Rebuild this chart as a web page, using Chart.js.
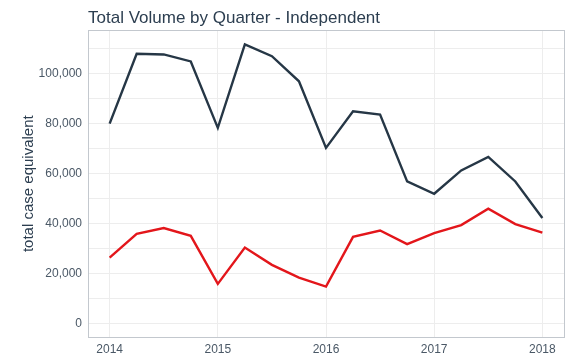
<!DOCTYPE html>
<html>
<head>
<meta charset="utf-8">
<script src="https://cdn.jsdelivr.net/npm/chart.js@4/dist/chart.umd.min.js"></script>
<style>
  html, body { margin: 0; padding: 0; background: #fff; }
  #wrap { width: 577px; height: 364px; }
</style>
</head>
<body>
<div id="wrap"><canvas id="volumeChart"></canvas></div>
<script>
// quarters as decimal years, 2014 Q1 .. 2018 Q1
const quarters = [2014, 2014.25, 2014.5, 2014.75, 2015, 2015.25, 2015.5, 2015.75,
                  2016, 2016.25, 2016.5, 2016.75, 2017, 2017.25, 2017.5, 2017.75, 2018];
const darkSeries = [80000, 107900, 107600, 104800, 78300, 111600, 106900, 96900,
                    70300, 84900, 83600, 56900, 52000, 61300, 66700, 56900, 42300];
const redSeries = [26500, 36000, 38300, 35200, 16000, 30500, 23600, 18500,
                   14900, 34800, 37300, 31900, 36300, 39500, 46000, 39900, 36500];
const yearTicks = [2014, 2015, 2016, 2017, 2018];
const valueTicks = [0, 10000, 20000, 30000, 40000, 50000, 60000, 70000, 80000, 90000, 100000, 110000];

const textColor = '#4a5866';
const gridColor = '#ededed';

const boxPlugin = {
    id: 'plotBox',
    afterDraw(chart) {
        const a = chart.chartArea;
        const ctx = chart.ctx;
        ctx.save();
        ctx.strokeStyle = '#c3c8ce';
        ctx.lineWidth = 1;
        ctx.strokeRect(Math.round(a.left) + 0.5, Math.round(a.top) + 0.5,
                       Math.round(a.right - a.left), Math.round(a.bottom - a.top));
        ctx.restore();
    }
};

const ctx = document.getElementById('volumeChart').getContext('2d');
new Chart(ctx, {
    type: 'line',
    data: {
        datasets: [
            {
                label: 'Total',
                data: quarters.map((q, i) => ({ x: q, y: darkSeries[i] })),
                borderColor: '#263746',
                borderWidth: 2.4,
                pointRadius: 0,
                tension: 0
            },
            {
                label: 'Independent',
                data: quarters.map((q, i) => ({ x: q, y: redSeries[i] })),
                borderColor: '#e3161b',
                borderWidth: 2.4,
                pointRadius: 0,
                tension: 0
            }
        ]
    },
    options: {
        responsive: true,
        maintainAspectRatio: false,
        animation: false,
        layout: { padding: { left: 0, right: 13, top: 0, bottom: 0 } },
        plugins: {
            legend: { display: false },
            tooltip: { enabled: false },
            title: {
                display: true,
                text: 'Total Volume by Quarter - Independent',
                align: 'start',
                fullSize: false,
                color: '#2c3e50',
                font: { family: 'Liberation Sans, Arial, sans-serif', size: 17, weight: 'normal' },
                padding: { top: 8, bottom: 2 }
            }
        },
        scales: {
            x: {
                type: 'linear',
                min: 2013.8,
                max: 2018.2,
                afterBuildTicks: scale => { scale.ticks = yearTicks.map(v => ({ value: v })); },
                afterFit: scale => { scale.height = 27; },
                ticks: {
                    color: textColor,
                    padding: 5,
                    font: { family: 'Liberation Sans, Arial, sans-serif', size: 12 },
                    callback: v => String(v)
                },
                grid: { color: gridColor, drawTicks: false },
                border: { display: false }
            },
            y: {
                min: -5200,
                max: 117200,
                afterBuildTicks: scale => { scale.ticks = valueTicks.map(v => ({ value: v })); },
                afterFit: scale => { scale.width = 88; },
                ticks: {
                    color: textColor,
                    padding: 6,
                    font: { family: 'Liberation Sans, Arial, sans-serif', size: 12 },
                    callback: v => (v % 20000 === 0 ? v.toLocaleString('en-US') : '')
                },
                grid: { color: gridColor, drawTicks: false },
                border: { display: false },
                title: {
                    display: true,
                    text: 'total case equivalent',
                    color: '#2c3e50',
                    font: { family: 'Liberation Sans, Arial, sans-serif', size: 15 },
                    padding: { top: 20, bottom: 0 }
                }
            }
        }
    },
    plugins: [boxPlugin]
});
</script>
</body>
</html>
